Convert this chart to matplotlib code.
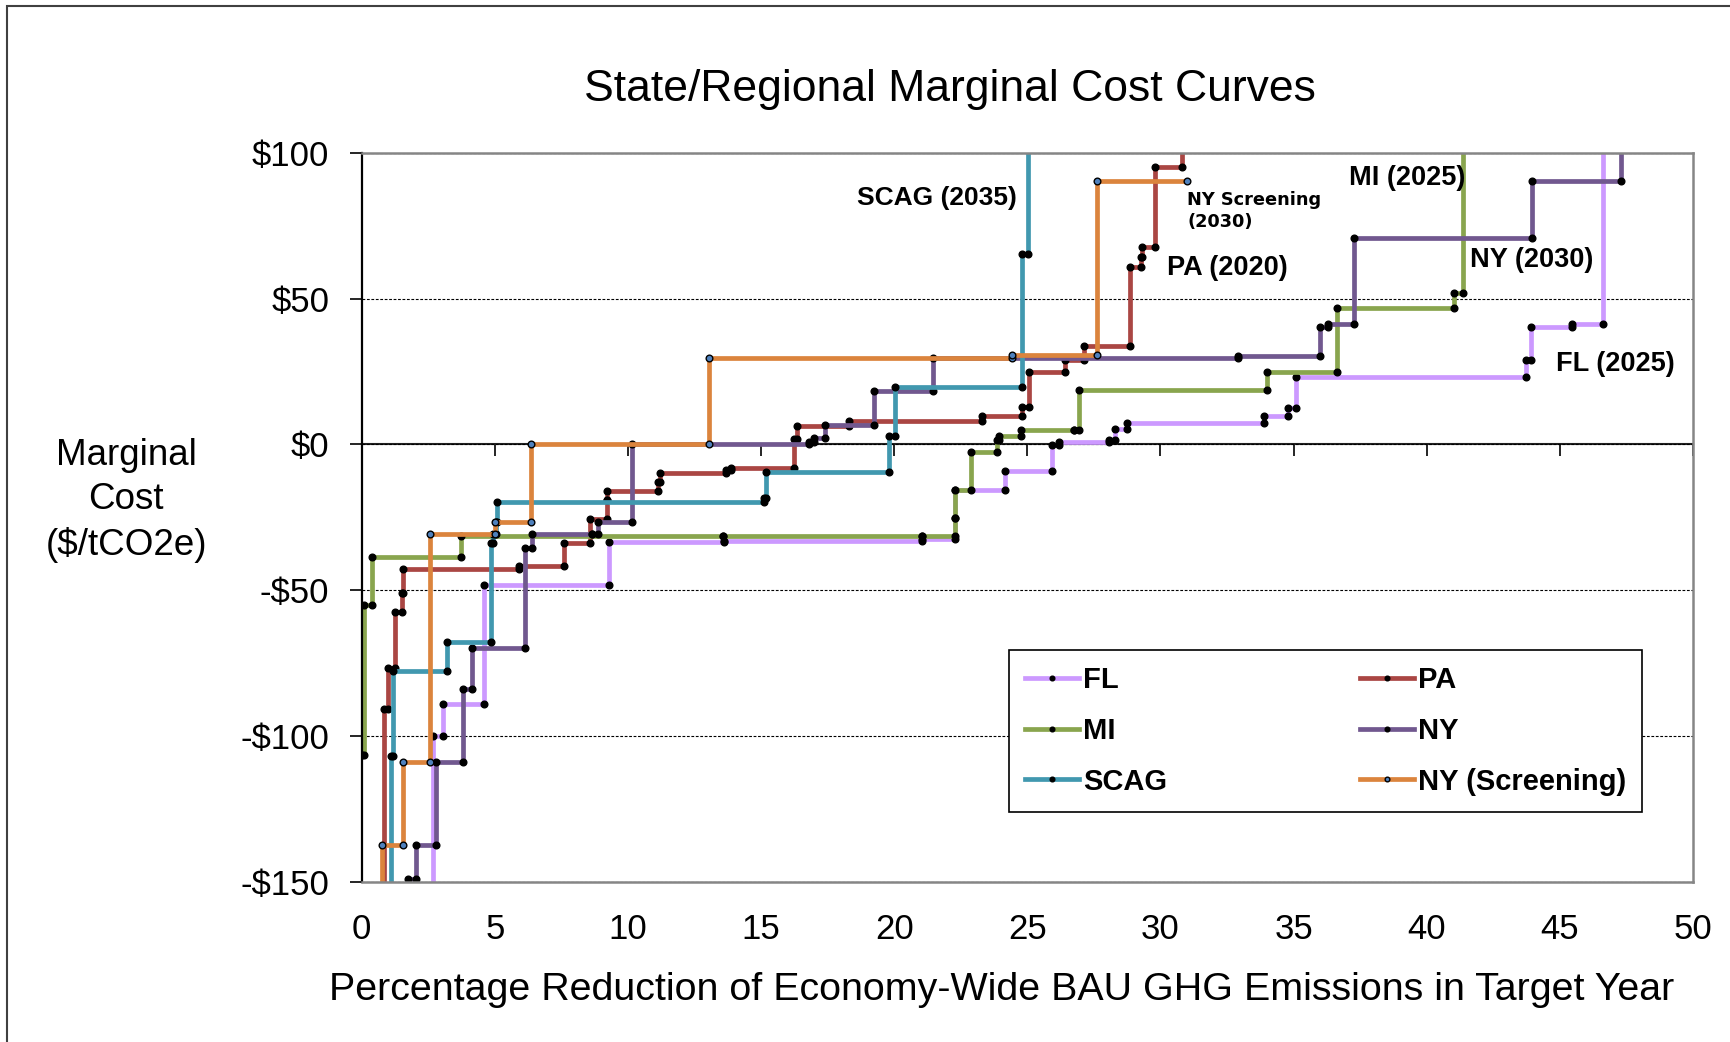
import matplotlib.pyplot as plt
from matplotlib.patches import Rectangle
from matplotlib.ticker import FuncFormatter

# Кумулятивное снижение (%) в конце каждой меры и её предельная стоимость ($/tCO2e)
# (значения вне диапазона оси = уход за край графика)
fl_cum = [2.69, 3.06, 4.59, 9.29, 13.6, 21.06, 22.28, 24.16, 25.91, 26.19, 28.06,
          28.29, 28.75, 33.9, 34.8, 35.1, 43.74, 43.9, 45.47, 46.62, 47.5]
fl_cost = [-300, -100, -88.9, -48, -33.4, -33.2, -32.5, -15.7, -9.0, -0.1, 1.0,
           1.7, 5.4, 7.4, 9.8, 12.5, 23.1, 28.8, 40.1, 41.2, 300]

pa_cum = [0.83, 1.0, 1.25, 1.5, 1.55, 5.9, 7.6, 8.56, 9.22, 9.23, 11.13, 11.22,
          13.69, 13.87, 16.22, 16.35, 18.3, 23.29, 24.81, 25.06, 26.4, 27.12,
          28.86, 29.28, 29.3, 29.78, 30.82, 31.4]
pa_cost = [-300, -90.6, -76.6, -57.5, -50.9, -42.6, -41.8, -33.8, -25.6, -18.9,
           -16.1, -13.0, -9.6, -8.7, -8.1, 1.8, 6.2, 7.9, 9.6, 13.0, 24.8, 29.0,
           33.6, 60.7, 64.4, 67.8, 95.0, 300]

mi_cum = [0.1, 0.37, 3.72, 13.56, 21.06, 22.28, 22.3, 22.9, 23.87, 23.92, 24.77,
          26.75, 26.94, 34.0, 36.64, 41.02, 41.36, 42.0]
mi_cost = [-106.3, -55.0, -38.6, -31.5, -31.5, -31.5, -25.2, -15.5, -2.6, 1.6,
           2.8, 4.9, 4.9, 18.7, 24.7, 46.9, 51.8, 300]

ny_cum = [1.75, 2.04, 2.79, 3.81, 4.13, 6.15, 6.4, 8.63, 8.88, 10.15, 16.81, 17.0,
          17.41, 19.25, 21.44, 32.9, 36.0, 36.3, 37.25, 43.96, 47.3, 48.0]
ny_cost = [-300, -149, -137.4, -108.8, -83.8, -69.9, -35.5, -30.7, -30.7, -26.4,
           0, 1.0, 2.2, 6.75, 18.2, 29.6, 30.2, 40.1, 41.2, 70.9, 90.2, 300]

scag_cum = [1.1, 1.16, 3.21, 4.85, 4.94, 5.06, 5.07, 15.12, 15.2, 19.81, 20.03,
            24.8, 25.03, 25.6]
scag_cost = [-300, -106.6, -77.7, -67.7, -33.8, -30.7, -26.4, -19.8, -18.4, -9.5,
             2.75, 19.6, 65.3, 300]

nys_cum = [0.77, 1.54, 2.56, 5.0, 6.34, 13.04, 24.43, 27.6, 31.0]
nys_cost = [-300, -137.4, -108.8, -30.7, -26.4, 0, 29.6, 30.5, 90.2]

SERIES = [
    ("FL", fl_cum, fl_cost, "#CC99FF", "black"),
    ("PA", pa_cum, pa_cost, "#AA4643", "black"),
    ("MI", mi_cum, mi_cost, "#89A54E", "black"),
    ("NY", ny_cum, ny_cost, "#71588F", "black"),
    ("SCAG", scag_cum, scag_cost, "#4198AF", "black"),
    ("NY (Screening)", nys_cum, nys_cost, "#DB843D", "#4F81BD"),
]

# Подписи кривых: (текст, x, y, выравнивание, шрифт, размер)
CURVE_LABELS = [
    ("SCAG (2035)", 24.6, 84.5, "right", "Liberation Sans", 19),
    ("NY Screening\n(2030)", 31.0, 80.0, "left", "DejaVu Sans", 12.8),
    ("PA (2020)", 30.23, 60.5, "left", "Liberation Sans", 19.5),
    ("MI (2025)", 37.08, 91.3, "left", "Liberation Sans", 19.5),
    ("NY (2030)", 41.64, 63.2, "left", "Liberation Sans", 19.5),
    ("FL (2025)", 44.85, 27.6, "left", "Liberation Sans", 19.5),
]

X_TICKS = list(range(0, 51, 5))
Y_TICKS = [-150, -100, -50, 0, 50, 100]
LEGEND_ORDER = ["FL", "MI", "SCAG", "PA", "NY", "NY (Screening)"]

TITLE = "State/Regional Marginal Cost Curves"
X_LABEL = "Percentage Reduction of Economy-Wide BAU GHG Emissions in Target Year"
Y_LABEL = "Marginal\nCost\n($/tCO2e)"


def step_points(cum, cost):
    """Ступенчатая кривая: каждая мера — горизонтальный отрезок."""
    starts = [0.0] + list(cum[:-1])
    xs, ys = [], []
    for x0, x1, c in zip(starts, cum, cost):
        xs += [x0, x1]
        ys += [c, c]
    return xs, ys


def money(v, _pos):
    return f"-${abs(v):.0f}" if v < 0 else f"${v:.0f}"


plt.rcParams['font.family'] = ['Liberation Sans', 'DejaVu Sans']

fig = plt.figure(figsize=(17.3, 10.42), dpi=100)
ax = fig.add_axes([0.2091, 0.1533, 0.7695, 0.7002])

handles = {}
for name, cum, cost, color, face in SERIES:
    xs, ys = step_points(cum, cost)
    line, = ax.plot(xs, ys, color=color, linewidth=3.4, marker='o',
                    markersize=4.8, markerfacecolor=face,
                    markeredgecolor='black', markeredgewidth=1.0, label=name)
    handles[name] = line

ax.set_xlim(0, 50)
ax.set_ylim(-150, 100)
ax.set_xticks(X_TICKS)
ax.set_yticks(Y_TICKS)
ax.yaxis.set_major_formatter(FuncFormatter(money))
ax.tick_params(axis='x', length=0, pad=22, labelsize=25)
ax.tick_params(axis='y', direction='out', length=8.5, width=1.2, pad=15,
               labelsize=25)
ax.yaxis.grid(True, linestyle=(0, (2.5, 1.5)), color='black', linewidth=0.8)

for side in ('top', 'right', 'bottom'):
    ax.spines[side].set_color('#868686')
    ax.spines[side].set_linewidth(1.8)
ax.spines['left'].set_color('black')
ax.spines['left'].set_linewidth(1.6)

# Ось X пересекает график на уровне $0 (метки делений вниз)
sec = ax.secondary_xaxis(0.6)
sec.set_xticks(X_TICKS)
sec.tick_params(direction='in', length=8.5, width=1.2,
                labeltop=False, labelbottom=False)
for sp in sec.spines.values():
    sp.set_color('#222222')
    sp.set_linewidth(1.5)

for text, x, y, ha, family, size in CURVE_LABELS:
    ax.text(x, y, text, ha=ha, va='center', fontsize=size, fontweight='bold',
            family=family, linespacing=1.3)

leg = ax.legend([handles[n] for n in LEGEND_ORDER], LEGEND_ORDER, ncol=2,
                loc='upper left', bbox_to_anchor=(0.5832, 0.3762),
                bbox_transform=fig.transFigure, borderaxespad=0,
                prop={'weight': 'bold', 'size': 21}, numpoints=1,
                markerscale=0.7, handlelength=1.85, handletextpad=0.15,
                columnspacing=6.6, labelspacing=0.78, borderpad=0.55,
                fancybox=False, framealpha=1)
leg.get_frame().set_edgecolor('black')
leg.get_frame().set_linewidth(1.2)

fig.text(0.549, 0.9035, TITLE, ha='center', va='baseline', fontsize=32)
fig.text(0.579, 0.0403, X_LABEL, ha='center', va='baseline', fontsize=28.4)
fig.text(0.073, 0.52, Y_LABEL, ha='center', va='center', fontsize=26.5,
         linespacing=1.35)

fig.patches.append(Rectangle((0.004, -0.1), 1.2, 1.0942, fill=False,
                             edgecolor='#404040', linewidth=1.5,
                             transform=fig.transFigure))

fig.savefig("out.png", dpi=100)
